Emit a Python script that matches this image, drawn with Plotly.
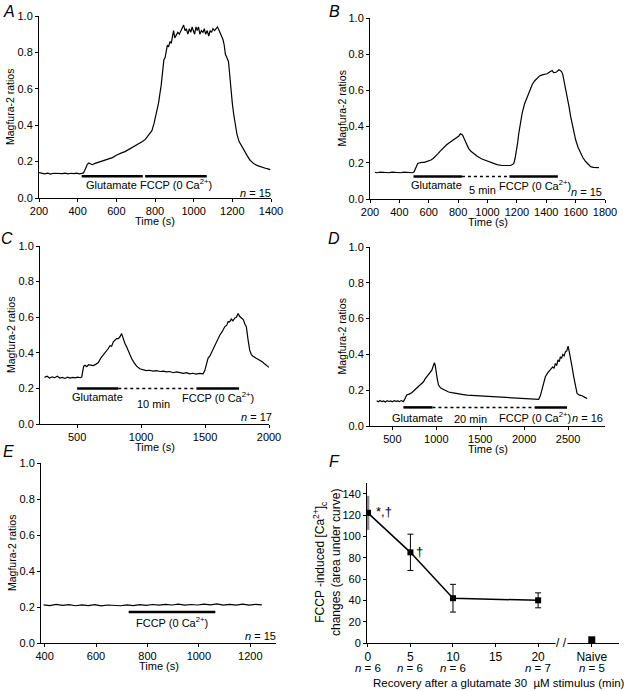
import plotly.graph_objects as go

# ---- data ----
a_time = [200, 215, 230, 245, 260, 275, 290, 305, 320, 335, 350, 365, 380, 395, 410, 421, 430, 437, 443, 450,
          458, 466, 475, 490, 505, 520, 540, 560, 580, 600, 615, 630, 645, 660, 675, 690, 705, 720, 735, 750,
          766, 784, 795, 805, 818, 832, 840, 846, 852, 858, 864, 870, 878, 884, 890, 896, 902, 910, 918, 926,
          934, 942, 948, 955, 962, 970, 978, 985, 992, 998, 1005, 1012, 1018, 1025, 1032, 1040, 1048, 1055,
          1062, 1070, 1078, 1085, 1092, 1100, 1108, 1116, 1123, 1130, 1137, 1145, 1152, 1158, 1164, 1172,
          1180, 1187, 1193, 1200, 1207, 1215, 1224, 1235, 1250, 1265, 1276, 1290, 1310, 1330, 1345, 1362,
          1379, 1396]
a_ratio = [.139, .136, .133, .137, .131, .136, .135, .138, .134, .137, .133, .136, .134, .137, .133, .135, .138,
           .152, .172, .185, .192, .186, .183, .19, .196, .2, .207, .215, .222, .235, .24, .249, .255, .264, .27,
           .279, .288, .3, .31, .322, .343, .37, .41, .465, .52, .62, .7, .76, .77, .81, .84, .83, .86, .85, .9,
           .92, .88, .9, .91, .9, .92, .94, .95, .92, .93, .9, .93, .91, .94, .92, .9, .94, .92, .94, .9, .92,
           .91, .93, .9, .92, .89, .92, .91, .93, .92, .93, .94, .925, .91, .89, .87, .84, .79, .77, .75, .67,
           .59, .52, .46, .4, .35, .31, .28, .25, .234, .21, .189, .178, .174, .166, .161, .156]

b_time = [234, 250, 270, 290, 310, 330, 350, 370, 390, 410, 430, 450, 470, 490, 500, 507, 515, 525, 540, 553,
          570, 585, 598, 615, 630, 644, 660, 675, 689, 705, 720, 735, 750, 765, 780, 795, 805, 815, 822, 830,
          840, 849, 860, 871, 885, 906, 930, 962, 995, 1031, 1065, 1099, 1130, 1156, 1170, 1179, 1188, 1195,
          1205, 1213, 1225, 1236, 1252, 1270, 1287, 1304, 1320, 1338, 1355, 1372, 1390, 1406, 1420, 1432,
          1440, 1450, 1463, 1475, 1486, 1495, 1504, 1512, 1520, 1530, 1543, 1555, 1566, 1583, 1600, 1617,
          1634, 1650, 1668, 1685, 1702, 1720, 1740, 1759]
b_ratio = [.147, .145, .148, .146, .147, .145, .148, .146, .147, .145, .148, .146, .147, .145, .15, .165, .185,
           .196, .2, .203, .202, .206, .207, .215, .224, .234, .248, .262, .275, .287, .298, .308, .316, .322,
           .33, .338, .348, .36, .358, .354, .335, .317, .298, .28, .265, .249, .236, .221, .21, .197, .19,
           .185, .183, .185, .19, .197, .225, .253, .31, .363, .42, .474, .525, .566, .6, .631, .652, .668,
           .68, .686, .69, .692, .7, .706, .71, .698, .699, .705, .714, .71, .704, .69, .659, .62, .566, .51,
           .456, .39, .327, .285, .253, .228, .207, .19, .179, .175, .172, .173]

c_time = [245, 265, 285, 305, 325, 345, 365, 385, 405, 425, 445, 465, 485, 505, 525, 536, 545, 552, 562, 575,
          590, 605, 627, 645, 666, 685, 705, 725, 744, 757, 770, 783, 796, 809, 822, 835, 848, 855, 861, 874,
          887, 900, 913, 926, 945, 965, 990, 1017, 1040, 1065, 1095, 1120, 1150, 1175, 1199, 1225, 1250, 1278,
          1303, 1330, 1355, 1380, 1407, 1430, 1460, 1485, 1498, 1511, 1524, 1537, 1556, 1576, 1595, 1615,
          1635, 1654, 1670, 1680, 1693, 1705, 1718, 1732, 1745, 1758, 1770, 1784, 1800, 1812, 1823, 1835,
          1849, 1862, 1875, 1900, 1927, 1950, 1965, 1979, 2000]
c_ratio = [.262, .268, .258, .265, .26, .268, .258, .262, .256, .263, .258, .262, .259, .263, .26, .264, .3,
           .325, .33, .322, .333, .33, .328, .335, .345, .37, .387, .408, .424, .44, .437, .462, .471, .48, .48,
           .49, .508, .49, .471, .452, .434, .41, .39, .368, .345, .325, .31, .305, .3, .302, .297, .3, .295,
           .297, .293, .295, .288, .293, .288, .285, .288, .282, .285, .28, .284, .282, .3, .34, .37, .381,
           .41, .434, .468, .499, .52, .546, .555, .575, .574, .59, .58, .595, .6, .621, .605, .598, .585,
           .56, .546, .48, .415, .39, .381, .37, .359, .348, .338, .331, .318]

d_time = [321, 340, 360, 380, 400, 420, 440, 460, 480, 500, 520, 540, 560, 580, 600, 625, 640, 663, 690, 720,
          750, 775, 797, 820, 840, 854, 870, 890, 911, 930, 949, 965, 979, 987, 994, 1010, 1025, 1050, 1082,
          1110, 1140, 1177, 1230, 1291, 1350, 1420, 1481, 1540, 1610, 1671, 1730, 1800, 1861, 1930, 2013,
          2090, 2165, 2185, 2203, 2222, 2241, 2270, 2298, 2325, 2340, 2355, 2370, 2385, 2400, 2412, 2425,
          2440, 2455, 2469, 2485, 2500, 2513, 2526, 2545, 2564, 2583, 2602, 2630, 2659, 2690, 2717]
d_ratio = [.141, .135, .142, .136, .14, .134, .141, .137, .14, .135, .141, .138, .14, .136, .142, .136, .15,
           .173, .178, .186, .2, .212, .219, .23, .24, .247, .262, .275, .29, .3, .312, .335, .353, .34, .312,
           .265, .229, .212, .204, .196, .19, .186, .18, .177, .172, .17, .167, .164, .162, .16, .158, .156,
           .154, .152, .151, .15, .149, .17, .201, .24, .275, .298, .312, .33, .322, .349, .338, .37, .36,
           .387, .378, .4, .392, .414, .42, .446, .415, .387, .33, .275, .22, .182, .172, .169, .16, .154]

e_time = [396, 420, 445, 470, 495, 520, 545, 570, 595, 620, 645, 670, 695, 720, 745, 770, 795, 820, 845, 870,
          895, 920, 945, 970, 995, 1020, 1045, 1070, 1095, 1120, 1145, 1170, 1195, 1220, 1245]
e_ratio = [.212, .208, .214, .209, .213, .207, .212, .208, .213, .206, .211, .209, .207, .212, .208, .213, .209,
           .214, .21, .215, .211, .216, .21, .214, .211, .216, .212, .217, .211, .215, .21, .216, .21, .215, .212]

# stimulus periods (s): glutamate, recovery gap, FCCP
a_glu, a_fccp = [421, 737], [749, 1068]
b_glu, b_gap, b_fccp = [496, 826], [826, 1149], [1149, 1479]
c_glu, c_gap, c_fccp = [500, 822], [822, 1433], [1433, 1766]
d_glu, d_gap, d_fccp = [625, 956], [956, 2120], [2120, 2488]
e_fccp = [727, 1064]

# panel F
f_recovery = [0, 5, 10, 20]
f_area = [122, 85, 42, 40]
f_sem = [16, 17, 13, 7]
f_naive_x, f_naive_y = 26.3, 3
f_tick_vals = [0, 5, 10, 15, 20, 26.3]
f_tick_text = ["0", "5", "10", "15", "20", "Naive"]
f_n_labels = ["6", "6", "6", "7", "5"]
f_n_pos = [0, 5, 10, 20, 26.3]

W, H = 624, 691
FONT = "Liberation Sans, Arial, sans-serif"

fig = go.Figure()
annotations = []
line_style = dict(color="black", width=1.2)


def note(text, x, y, xref="paper", yref="paper", size=11, **kw):
    d = dict(text=text, x=x, y=y, xref=xref, yref=yref, showarrow=False, xanchor="center", yanchor="middle",
             font=dict(family=FONT, size=size, color="black"))
    d.update(kw)
    annotations.append(d)


def axis_style(domain, rng, tickvals, **kw):
    d = dict(domain=domain, range=rng, tickvals=tickvals, showline=True, linecolor="black", linewidth=1,
             ticks="outside", ticklen=3, tickcolor="black", showgrid=False, zeroline=False, automargin=False,
             tickfont=dict(family=FONT, size=11, color="black"))
    d.update(kw)
    return d


panels = [
    # key, x px span, y px span (top,bottom), x range, x ticks
    ("", (39, 271), (16, 198), [200, 1400], list(range(200, 1401, 200))),
    ("2", (370, 605), (18, 199), [200, 1800], list(range(200, 1801, 200))),
    ("3", (40, 269), (246, 424), [210, 2000], [500, 1000, 1500, 2000]),
    ("4", (370, 605), (247, 426), [245, 2920], [500, 1000, 1500, 2000, 2500]),
    ("5", (41, 276), (463, 643), [386, 1300], [400, 600, 800, 1000, 1200]),
]
layout_axes = {}
for key, (x0, x1), (y0, y1), xr, xt in panels:
    layout_axes["xaxis" + key] = axis_style([x0 / W, x1 / W], xr, xt, anchor="y" + key)
    layout_axes["yaxis" + key] = axis_style([1 - y1 / H, 1 - y0 / H], [0, 1.0], [0, .2, .4, .6, .8, 1.0],
                                            tickformat=".1f", anchor="x" + key)
    note("Time (s)", (x0 + x1) / 2 / W, 1 - (y1 + 23) / H)
    note("Magfura-2 ratios", (x0 - 29) / W, 1 - (y0 + y1) / 2 / H, textangle=-90, size=10.5)

traces = [("", a_time, a_ratio), ("2", b_time, b_ratio), ("3", c_time, c_ratio), ("4", d_time, d_ratio),
          ("5", e_time, e_ratio)]
for key, t, r in traces:
    fig.add_trace(go.Scatter(x=t, y=r, mode="lines", line=line_style, xaxis="x" + key, yaxis="y" + key,
                             showlegend=False))


def bar(key, span, y, dot=False):
    fig.add_trace(go.Scatter(x=span, y=[y, y], mode="lines", xaxis="x" + key, yaxis="y" + key, showlegend=False,
                             line=dict(color="black", width=1.5 if dot else 2.5, dash="dot" if dot else "solid")))


def label(key, text, x, y, size=11):
    note(text, x, y, xref="x" + key, yref="y" + key, size=size)


FCCP = "FCCP (0 Ca<sup>2+</sup>)"
bar("", a_glu, .119); bar("", a_fccp, .119)
label("", "Glutamate", 573, .072); label("", FCCP, 908, .076); label("", "<i>n</i> = 15", 1322, .03)

bar("2", b_glu, .124); bar("2", b_gap, .124, True); bar("2", b_fccp, .124)
label("2", "Glutamate", 655, .077); label("2", "5 min", 967, .048); label("2", FCCP, 1322, .08)
label("2", "<i>n</i> = 15", 1672, .04)

bar("3", c_glu, .2); bar("3", c_gap, .2, True); bar("3", c_fccp, .2)
label("3", "Glutamate", 659, .15); label("3", "10 min", 1101, .112); label("3", FCCP, 1602, .15)
label("3", "<i>n</i> = 17", 1901, .037)

bar("4", d_glu, .104); bar("4", d_gap, .104, True); bar("4", d_fccp, .104)
label("4", "Glutamate", 789, .045); label("4", "20 min", 1386, .04); label("4", FCCP, 2127, .048)
label("4", "<i>n</i> = 16", 2717, .045)

bar("5", e_fccp, .172)
label("5", FCCP, 895, .117); label("5", "<i>n</i> = 15", 1239, .039)

# ---- panel F ----
fx0, fx1, fy0, fy1 = 367, 619, 483, 643
layout_axes["xaxis6"] = axis_style([fx0 / W, fx1 / W], [-0.1, 29.5], f_tick_vals, ticktext=f_tick_text,
                                   anchor="y6", tickfont=dict(family=FONT, size=12, color="black"))
layout_axes["yaxis6"] = axis_style([1 - fy1 / H, 1 - fy0 / H], [0, 150], list(range(0, 141, 20)), anchor="x6")

fig.add_trace(go.Scatter(x=f_recovery, y=f_area, mode="lines+markers", xaxis="x6", yaxis="y6", showlegend=False,
                         line=dict(color="black", width=1.5), marker=dict(symbol="square", size=6, color="black"),
                         error_y=dict(type="data", array=[0] + f_sem[1:], color="black", thickness=1, width=3)))
fig.add_trace(go.Scatter(x=f_recovery[:1], y=f_area[:1], mode="markers", xaxis="x6", yaxis="y6", showlegend=False,
                         marker=dict(symbol="square", size=6, color="black"),
                         error_y=dict(type="data", array=f_sem[:1], color="#8a8a8a", thickness=3, width=0)))
fig.add_trace(go.Scatter(x=[f_naive_x], y=[f_naive_y], mode="markers", xaxis="x6", yaxis="y6", showlegend=False,
                         marker=dict(symbol="square", size=7, color="black")))
label("6", "*,\u2020", 1.9, f_area[0] + 1, 13)
label("6", "\u2020", 6.1, f_area[1] + 1, 13)
note("/ /", 22.8, 0, xref="x6", yref="y6", size=12, bgcolor="white", borderpad=0)
for xv, n in zip(f_n_pos, f_n_labels):
    note("<i>n</i> = " + n, xv, 1 - 668 / H, xref="x6", size=11.5)
note("Recovery after a glutamate 30  \u00b5M stimulus (min)", 499 / W, 1 - 683 / H, size=11.5)
note("FCCP -induced [Ca<sup>2+</sup>]<sub>c</sub><br>changes (area under curve)", 327 / W, 1 - 563 / H,
     size=12, textangle=-90)

# panel letters
for letter, lx, ly in [("A", 9, 12), ("B", 334, 11), ("C", 7, 238), ("D", 334, 238), ("E", 8, 451), ("F", 334, 462)]:
    note("<i>" + letter + "</i>", lx / W, 1 - ly / H, size=16)

fig.update_layout(width=W, height=H, margin=dict(l=0, r=0, t=0, b=0), plot_bgcolor="white",
                  paper_bgcolor="white", annotations=annotations, font=dict(family=FONT, color="black"),
                  **layout_axes)
fig.write_html("out.html", config={"displayModeBar": False},
               post_script="document.body.style.margin = '0';")
